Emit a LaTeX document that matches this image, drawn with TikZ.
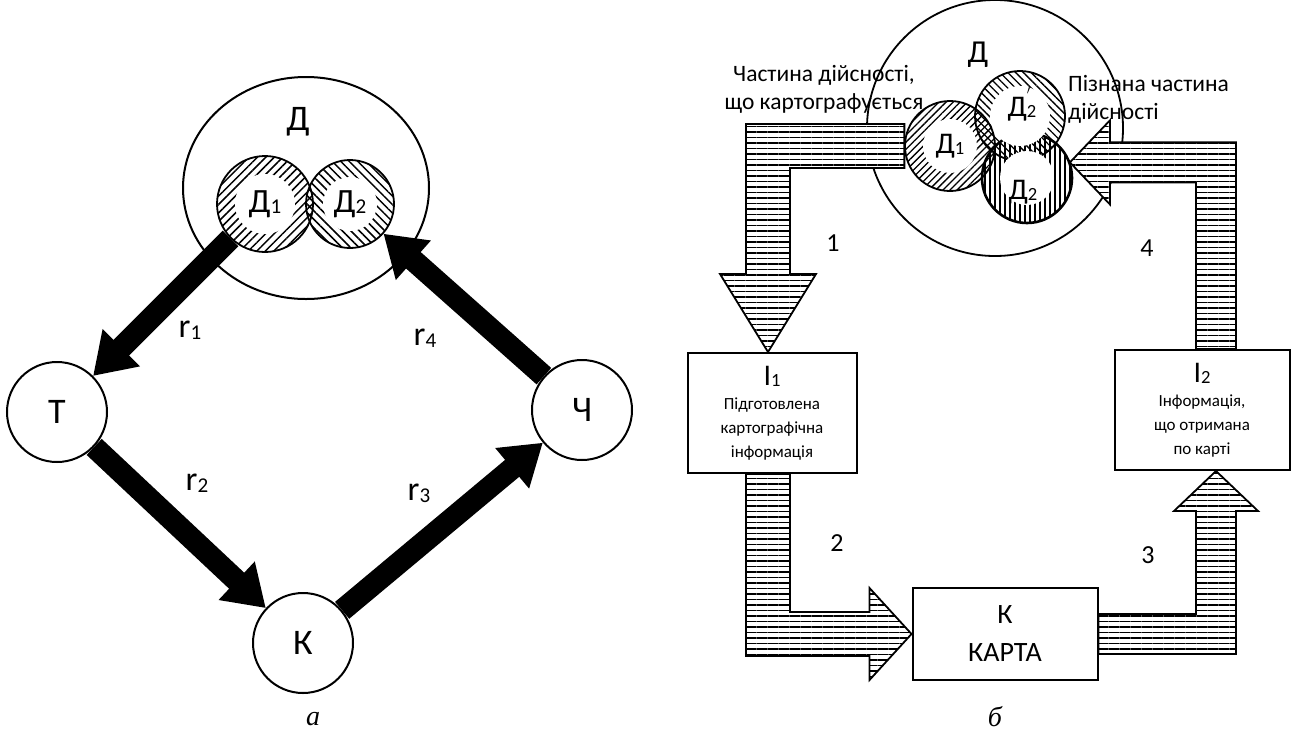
\documentclass[tikz,border=0pt]{standalone}
\usepackage{graphicx}
\usepackage{fontspec}
\setmainfont{Carlito}
\newfontfamily\captfont{Liberation Serif}
\usetikzlibrary{arrows.meta,patterns.meta,shapes.geometric,calc,positioning}
\newcommand{\lowidx}[1]{\raisebox{-0.05em}{\scalebox{0.62}{#1}}}

\tikzset{
  vertex/.style={circle, draw=black, line width=2pt, minimum size=100pt, inner sep=0pt, font=\fontsize{36}{40}\selectfont},
  fatarrow/.style={line width=22pt, -{Triangle[width=50pt,length=40pt]}},
  domain/.style={circle, draw=black, line width=1.8pt, inner sep=0pt, minimum size=#1},
  lbl/.style={inner sep=0pt, font=\fontsize{#1}{#1}\selectfont},
  infobox/.style={rectangle, draw=black, line width=2pt, align=center, inner sep=0pt, font=\fontsize{17}{24}\selectfont},
  hatchbar/.style={draw=black, line width=1.8pt, line join=miter, preaction={fill=white}, pattern={Lines[angle=0,distance=5.5pt,line width=1.5pt]}}
}

\begin{document}
\begin{tikzpicture}[x=1pt, y=-1pt]
  \useasboundingbox (0,0) rectangle (1301,737);

  % --- panel a ---
  \node[ellipse, draw=black, line width=2pt, minimum width=246pt, minimum height=222pt] (da) at (306,188) {};
  \node[lbl=36] (dalbl) at (298,122) {Д};
  \node[domain=88pt, pattern={Lines[angle=-45,distance=6pt,line width=1.5pt]}] (d2) at (350,204) {};
  \node[domain=96pt, pattern={Lines[angle=45,distance=6pt,line width=1.5pt]}] (d1) at (265,204) {};
  \fill[white] (d1.center) circle (30pt);
  \fill[white] (d2.center) circle (27pt);
  \node[lbl=34] at (d1) {Д\lowidx{1}};
  \node[lbl=34] at (d2) {Д\lowidx{2}};

  \node[vertex] (t) at (57,412) {Т};
  \node[vertex] (k) at (303,643) {К};
  \node[vertex] (ch) at (582,410) {Ч};

  \draw[fatarrow] (d1) -- (t);
  \draw[fatarrow] (t) -- (k);
  \draw[fatarrow] (k) -- (ch);
  \draw[fatarrow] (ch) -- (d2);

  \node[lbl=34] (r1) at (190,330) {r\lowidx{1}};
  \node[lbl=34] (r2) at (197,483) {r\lowidx{2}};
  \node[lbl=34] (r3) at (419,493) {r\lowidx{3}};
  \node[lbl=34] (r4) at (425,338) {r\lowidx{4}};

  % --- panel b ---
  \node[domain=256pt] (db) at (995,128) {};
  \node[lbl=32] (dblbl) at (978,55) {Д};
  \node[domain=90pt, pattern={Lines[angle=45,distance=5pt,line width=1.3pt]}] (d1b) at (950,146) {};
  \node[domain=90pt, pattern={Lines[angle=-45,distance=5.5pt,line width=1.3pt]}] (d2pb) at (1020,116) {};
  \node[domain=90pt, line width=2.6pt, pattern={Lines[angle=90,distance=5pt,line width=1.3pt]}] (d2b) at (1027,178) {};
  \fill[white] (d1b.center) circle (27pt);
  \fill[white] (d2pb.center) circle (30pt);
  \fill[white] (d2b.center) circle (27pt);
  \node[lbl=30] at (d1b) {Д\lowidx{1}};
  \node[lbl=30] at ($(d2pb)+(2,-12)$) {Д\rlap{\raisebox{0.55em}{\scalebox{0.6}{$'$}}}\lowidx{2}};
  \node[lbl=30] at ($(d2b)+(-4,14)$) {Д\lowidx{2}};

  \node[infobox, minimum width=169pt, minimum height=120pt] (i1) at (772,413)
    {{\fontsize{30}{30}\selectfont І\lowidx{1}}\\Підготовлена\\картографічна\\інформація};
  \node[infobox, minimum width=175pt, minimum height=120pt] (i2) at (1202,410)
    {{\fontsize{30}{30}\selectfont І\lowidx{2}}\\Інформація,\\що отримана\\по карті};
  \node[infobox, minimum width=185pt, minimum height=92pt, font=\fontsize{28}{38}\selectfont] (kb) at (1005,634)
    {К\\КАРТА};

  \coordinate (lcol) at (768,0);
  \coordinate (rcol) at (1216,0);
  \coordinate (e1) at (lcol |- d1b.west);
  \coordinate (e2) at (lcol |- kb.west);
  \coordinate (e3) at (rcol |- kb.east);
  \coordinate (e4) at (rcol |- d2b.20);

  % 1: to I1
  \draw[hatchbar] ($(d1b.west)+(0,-22)$) -- ($(e1)+(-22,-22)$) -- ($(lcol |- i1.north)+(-22,-78)$)
    -- ++(-26,0) -- (lcol |- i1.north) -- ($(lcol |- i1.north)+(48,-78)$) -- ++(-26,0)
    -- ($(e1)+(22,22)$) -- ($(d1b.west)+(0,22)$) -- cycle;
  % 2: to map
  \draw[hatchbar] ($(lcol |- i1.south)+(-22,0)$) -- ($(e2)+(-22,22)$) -- ($(kb.west)+(-42,22)$)
    -- ++(0,24) -- (kb.west) -- ($(kb.west)+(-42,-46)$) -- ++(0,24)
    -- ($(e2)+(22,-22)$) -- ($(lcol |- i1.south)+(22,0)$) -- cycle;
  % 3: to I2
  \draw[hatchbar] ($(kb.east)+(0,-20)$) -- ($(e3)+(-20,-20)$) -- ($(rcol |- i2.south)+(-20,40)$)
    -- ++(-22,0) -- (rcol |- i2.south) -- ($(rcol |- i2.south)+(42,40)$) -- ++(-22,0)
    -- ($(e3)+(20,20)$) -- ($(kb.east)+(0,20)$) -- cycle;
  % 4: back to reality
  \draw[hatchbar] ($(rcol |- i2.north)+(20,0)$) -- ($(e4)+(20,-20)$) -- ($(d2b.20)+(40,-20)$)
    -- ++(0,-22) -- (d2b.20) -- ($(d2b.20)+(40,42)$) -- ++(0,-22)
    -- ($(e4)+(-20,20)$) -- ($(rcol |- i2.north)+(-20,0)$) -- cycle;

  \node[lbl=26] (n1) at (833,243) {1};
  \node[lbl=26] (n2) at (837,543) {2};
  \node[lbl=26] (n3) at (1148,555) {3};
  \node[lbl=26] (n4) at (1147,248) {4};

  \node[align=center, inner sep=0pt, font=\fontsize{23.5}{28}\selectfont] (cart) at (824,89)
    {Частина дійсності,\\що картографується};
  \node[align=left, anchor=west, inner sep=0pt, font=\fontsize{23.5}{28}\selectfont] (known) at (1068,99)
    {Пізнана частина\\дійсності};

  % captions
  \node[lbl=28, font=\captfont\itshape\fontsize{28}{28}\selectfont] (capa) at (313,719) {а};
  \node[lbl=28, font=\captfont\itshape\fontsize{28}{28}\selectfont] (capb) at (995,717) {б};
\end{tikzpicture}
\end{document}
